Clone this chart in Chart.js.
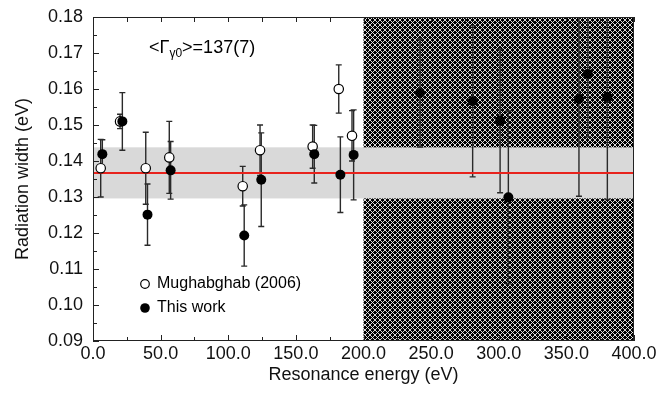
<!DOCTYPE html>
<html lang="en">
<head>
<meta charset="UTF-8">
<title>Radiation width vs resonance energy</title>
<script src="https://cdn.jsdelivr.net/npm/chart.js"></script>
<style>
  html, body { margin: 0; padding: 0; background: #fff; }
  #wrap { width: 659px; height: 394px; }
</style>
</head>
<body>
<div id="wrap"><canvas id="chart"></canvas></div>
<script>
// Mughabghab (2006) - open circles
const mughE   = [5.7, 20.0, 39.0, 56.4, 110.7, 123.5, 162.4, 181.7, 191.5];
const mughW   = [0.138, 0.151, 0.138, 0.141, 0.133, 0.143, 0.144, 0.160, 0.147];
const mughErr = [0.008, 0.002, 0.010, 0.010, 0.0055, 0.007, 0.006, 0.0067, 0.007];

// This work - filled circles
const workE   = [6.9, 21.7, 40.3, 57.4, 111.8, 124.4, 163.6, 182.9, 192.7,
                 241.8, 280.7, 301.0, 307.1, 359.3, 365.8, 380.3];
const workW   = [0.1419, 0.151, 0.1251, 0.1374, 0.1193, 0.1348, 0.1419, 0.1362, 0.1417,
                 0.1589, 0.1566, 0.1512, 0.1299, 0.1572, 0.1642, 0.1578];
const workErr = [0.004, 0.008, 0.0085, 0.008, 0.0085, 0.013, 0.008, 0.0105, 0.0125,
                 0.015, 0.021, 0.020, 0.024, 0.027, 0.0175, 0.0285];

// average width and its uncertainty, region above 200 eV is hatched
const meanWidth = 0.1367;
const meanErr = 0.0071;
const hatchFrom = 200;
const hatchTo = 400;

const xTicks = [0, 50, 100, 150, 200, 250, 300, 350, 400];
const yTicks = [0.09, 0.10, 0.11, 0.12, 0.13, 0.14, 0.15, 0.16, 0.17, 0.18];

const FONT = '"Liberation Sans", Arial, Helvetica, sans-serif';

function makeHatch() {
    const c = document.createElement('canvas');
    c.width = 5; c.height = 5;
    const g = c.getContext('2d');
    g.fillStyle = '#000';
    g.fillRect(0, 0, 5, 5);
    g.strokeStyle = '#f2f2f2';
    g.lineWidth = 0.9;
    g.beginPath();
    g.moveTo(0, 0); g.lineTo(5, 5);
    g.moveTo(5, 0); g.lineTo(0, 5);
    g.stroke();
    return c;
}

function drawErrors(ctx, x, y, es, vs, errs) {
    ctx.strokeStyle = '#2a2a2a';
    ctx.lineWidth = 1.4;
    for (let i = 0; i < es.length; i++) {
        const px = x.getPixelForValue(es[i]);
        const top = y.getPixelForValue(vs[i] + errs[i]);
        const bot = y.getPixelForValue(vs[i] - errs[i]);
        ctx.beginPath();
        ctx.moveTo(px, top); ctx.lineTo(px, bot);
        ctx.moveTo(px - 3, top); ctx.lineTo(px + 3, top);
        ctx.moveTo(px - 3, bot); ctx.lineTo(px + 3, bot);
        ctx.stroke();
    }
}

const decor = {
    id: 'decor',
    beforeDatasetsDraw(chart) {
        const { ctx, chartArea: a, scales: { x, y } } = chart;
        ctx.save();
        // hatched region
        const h1 = x.getPixelForValue(hatchFrom), h2 = x.getPixelForValue(hatchTo);
        ctx.fillStyle = ctx.createPattern(makeHatch(), 'repeat');
        ctx.fillRect(h1, a.top, h2 - h1, a.bottom - a.top);
        // uncertainty band
        const b1 = y.getPixelForValue(meanWidth + meanErr);
        const b2 = y.getPixelForValue(meanWidth - meanErr);
        ctx.fillStyle = '#d9d9d9';
        ctx.fillRect(a.left, b1, a.right - a.left, b2 - b1);
        // error bars
        ctx.beginPath();
        ctx.rect(a.left, a.top, a.right - a.left, a.bottom - a.top);
        ctx.clip();
        drawErrors(ctx, x, y, mughE, mughW, mughErr);
        drawErrors(ctx, x, y, workE, workW, workErr);
        ctx.restore();
    },
    afterDatasetsDraw(chart) {
        const { ctx, chartArea: a, scales: { x, y } } = chart;
        ctx.save();
        // frame
        ctx.strokeStyle = '#222';
        ctx.lineWidth = 1;
        ctx.strokeRect(a.left + 0.5, a.top + 0.5, a.right - a.left - 1, a.bottom - a.top - 1);
        // inward ticks
        ctx.beginPath();
        for (let v = 0; v <= 400; v += 25) {
            const px = Math.round(x.getPixelForValue(v)) + 0.5;
            const len = v % 50 === 0 ? 6 : 4;
            ctx.moveTo(px, a.bottom); ctx.lineTo(px, a.bottom - len);
            ctx.moveTo(px, a.top); ctx.lineTo(px, a.top + 5);
        }
        for (let k = 0; k <= 18; k++) {
            const v = 0.09 + k * 0.005;
            const py = Math.round(y.getPixelForValue(v)) + 0.5;
            const len = k % 2 === 0 ? 6 : 4;
            ctx.moveTo(a.left, py); ctx.lineTo(a.left + len, py);
        }
        ctx.stroke();

        // average value note
        ctx.fillStyle = '#000';
        ctx.textBaseline = 'alphabetic';
        ctx.textAlign = 'left';
        let tx = a.left + 56, ty = a.top + 36;
        ctx.font = '18px ' + FONT;
        ctx.fillText('<\u0393', tx, ty);
        tx += ctx.measureText('<\u0393').width;
        ctx.font = '12px ' + FONT;
        ctx.fillText('\u03b30', tx, ty + 4);
        tx += ctx.measureText('\u03b30').width;
        ctx.font = '18px ' + FONT;
        ctx.fillText('>=137(7)', tx, ty);

        // legend
        const lx = a.left + 52;
        ctx.font = '16px ' + FONT;
        ctx.textBaseline = 'middle';
        ctx.lineWidth = 1.2;
        ctx.strokeStyle = '#000';
        ctx.fillStyle = '#fff';
        ctx.beginPath(); ctx.arc(lx, a.top + 267, 4.3, 0, Math.PI * 2); ctx.fill(); ctx.stroke();
        ctx.fillStyle = '#000';
        ctx.fillText('Mughabghab (2006)', lx + 12, a.top + 267);
        ctx.beginPath(); ctx.arc(lx, a.top + 291, 4.8, 0, Math.PI * 2); ctx.fill();
        ctx.fillText('This work', lx + 12, a.top + 291);
        ctx.restore();
    }
};

new Chart(document.getElementById('chart'), {
    type: 'scatter',
    data: {
        datasets: [{
            label: 'This work',
            data: workE.map((e, i) => ({ x: e, y: workW[i] })),
            backgroundColor: '#000',
            borderColor: '#000',
            borderWidth: 0,
            pointRadius: 5,
            order: 0
        }, {
            label: 'Mughabghab (2006)',
            data: mughE.map((e, i) => ({ x: e, y: mughW[i] })),
            backgroundColor: '#fff',
            borderColor: '#000',
            borderWidth: 1.2,
            pointRadius: 4.7,
            order: 1
        }, {
            label: 'mean',
            type: 'line',
            data: [{ x: 0, y: meanWidth }, { x: 400, y: meanWidth }],
            borderColor: '#e8231d',
            borderWidth: 2,
            pointRadius: 0,
            order: 2
        }]
    },
    options: {
        responsive: true,
        maintainAspectRatio: false,
        animation: false,
        layout: { padding: { top: 17, right: 25, left: 0, bottom: 0 } },
        plugins: { legend: { display: false }, tooltip: { enabled: false } },
        scales: {
            x: {
                type: 'linear',
                min: 0, max: 400,
                afterBuildTicks: s => { s.ticks = xTicks.map(v => ({ value: v })); },
                afterFit: s => { s.height = 53; s.paddingLeft = 0; s.paddingRight = 0; },
                grid: { display: false, drawTicks: false },
                border: { display: false },
                ticks: {
                    padding: 2,
                    color: '#111',
                    font: { family: FONT, size: 18 },
                    maxRotation: 0,
                    callback: v => v.toFixed(1)
                },
                title: {
                    display: true,
                    text: 'Resonance energy (eV)',
                    color: '#111',
                    font: { family: FONT, size: 18 },
                    padding: { top: 0, bottom: 8 }
                }
            },
            y: {
                type: 'linear',
                min: 0.09, max: 0.18,
                afterBuildTicks: s => { s.ticks = yTicks.map(v => ({ value: v })); },
                afterFit: s => { s.width = 93; s.paddingTop = 0; s.paddingBottom = 0; },
                grid: { display: false, drawTicks: false },
                border: { display: false },
                ticks: {
                    padding: 10,
                    color: '#111',
                    font: { family: FONT, size: 18 },
                    callback: v => v.toFixed(2)
                },
                title: {
                    display: true,
                    text: 'Radiation width (eV)',
                    color: '#111',
                    font: { family: FONT, size: 18 },
                    padding: { top: 12, bottom: 0 }
                }
            }
        }
    },
    plugins: [decor]
});
</script>
</body>
</html>
